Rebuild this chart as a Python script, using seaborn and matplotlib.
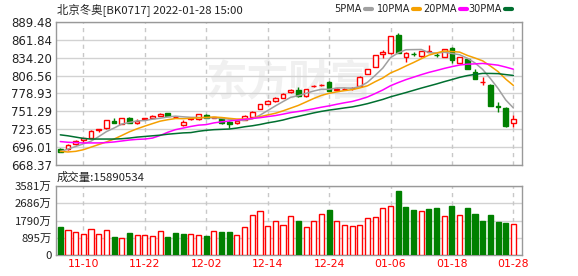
import numpy as np
import pandas as pd
import matplotlib
matplotlib.use("Agg")
import matplotlib.pyplot as plt
import seaborn as sns
from matplotlib.lines import Line2D

# ---------------- data ----------------
dates = [d.strftime("%m-%d") for d in pd.bdate_range("2021-11-05", "2022-01-28")
         if d.strftime("%Y-%m-%d") != "2022-01-03"]

opens = [693, 693, 700.6, 707, 710, 722, 725, 737, 732, 741,
         733, 739.5, 741.2, 744.3, 748.5, 742, 730.4, 740, 739, 746.4,
         741.5, 740.7, 735.5, 733, 738.1, 743.2, 755.1, 762.4, 767, 772.6,
         781, 785, 775.5, 790, 791.5, 797.3, 785, 786, 786.8, 790.6,
         809, 820.5, 840, 841, 869.4, 835, 840, 837, 843.5, 838.5,
         836, 849.8, 825.7, 832, 812.7, 796.5, 792.2, 759, 757, 733]
closes = [689, 699.5, 706, 710, 721.6, 724, 738, 734, 740.7, 734,
          736, 740.5, 744.8, 747.9, 744, 742.3, 735.5, 740.7, 747, 741.2,
          741.7, 733, 732, 737, 744.8, 751, 762.4, 767.5, 772.6, 778.7,
          784, 775, 785.5, 790.6, 792.2, 783.4, 785.5, 786.5, 787.5, 805,
          817, 838.5, 843.6, 867.9, 842, 841, 839.6, 844.5, 844, 838,
          847.3, 830, 835, 817, 801.5, 797, 760, 758.5, 728, 739.5]
highs = [694, 700.5, 707, 710.5, 722, 724.5, 738.5, 741.2, 741, 742.5,
         738.8, 741.5, 745.5, 748.5, 749, 744, 737.5, 743, 747.5, 747,
         742.5, 741.5, 736, 737.5, 745.5, 752.6, 763, 768.5, 773.5, 779.5,
         786, 789.6, 786, 792, 793.5, 799, 787.5, 788, 789, 806,
         817.5, 839, 845.5, 868.5, 873, 843.6, 842.5, 845, 854, 842,
         848.5, 851, 835.5, 833, 816.9, 804, 793, 766.4, 757.5, 746]
lows = [688, 692, 700, 703, 709.5, 719.5, 724.5, 733.5, 731.5, 733.5,
        731, 738, 740.5, 743.5, 743.5, 740.5, 728.5, 737.5, 738, 740.5,
        740.5, 732.5, 725.5, 732, 737.5, 742.5, 754.5, 762, 766.5, 772,
        779, 774, 774, 788.5, 790.5, 782.5, 783.5, 784, 785, 790,
        808.5, 820, 834, 840.5, 841.5, 827, 836.5, 836, 842.5, 835.5,
        835.5, 825.7, 825, 816.5, 801, 792, 759.5, 751, 727.5, 727]
volumes = [1453, 1280, 1176, 1072, 1332, 1072, 1280, 917, 900, 1141,
           1021, 1021, 969, 1228, 917, 1141, 1090, 1072, 1021, 986,
           1228, 1193, 1193, 1021, 1436, 2076, 2266, 1488, 1747, 1539,
           2024, 1765, 1436, 1747, 2111, 2335, 1747, 1539, 1488, 1539,
           1903, 1955, 2422, 2526, 3321, 2491, 2335, 2266, 2387, 2439,
           2007, 2543, 2059, 2439, 2128, 1765, 2076, 1713, 1661, 1589]

ma5_early = [689.2, 693.0, 697.0, 701.0]
ma10_early = [689.5, 688.5, 689.5, 692.0, 696.0, 700.0, 704.0, 708.5, 714.0]
ma20_early = [704.6, 703.5, 703.0, 702.5, 702.5, 702.5, 703.0, 704.0, 705.5, 707.0,
              708.0, 708.5, 710.0, 714.0, 719.0, 723.0, 725.5, 728.0, 730.0]
ma30_early = [715.0, 713.5, 711.5, 709.5, 708.5, 708.5, 708.5, 708.5, 709.0, 710.0,
              711.5, 712.5, 713.5, 714.5, 716.0, 717.0, 718.0, 718.5, 720.5, 722.0,
              723.0, 723.5, 724.0, 725.5, 727.5, 729.0, 731.0, 733.5, 735.5]

price_ticks = [668.37, 696.01, 723.65, 751.29, 778.93, 806.56, 834.20, 861.84, 889.48]
vol_ticks = [0, 895, 1790, 2686, 3581]
vol_tick_labels = ["0", "895万", "1790万", "2686万", "3581万"]
date_labels = ["11-10", "11-22", "12-02", "12-14", "12-24", "01-06", "01-18", "01-28"]

title = "北京冬奥[BK0717] 2022-01-28 15:00"
vol_title = "成交量:15890534"
ma_names = ["5PMA", "10PMA", "20PMA", "30PMA"]

# ---------------- style ----------------
sns.set_theme(style="white")
plt.rcParams["font.family"] = ["DejaVu Sans", "Noto Sans CJK SC"]
CJK = ["Noto Sans CJK SC", "DejaVu Sans"]

RED = "#ff0000"
GREEN = "#008000"
MA_COLORS = ["#a0a0a0", "#f5a000", "#ff00ff", "#006f30"]
GRID = "#d2d2d2"
SPINE = "#999999"
TXT = "#222222"

W, H = 578, 276
fig = plt.figure(figsize=(W / 100, H / 100), dpi=100)
fig.patch.set_facecolor("white")

def box(l, t, r, b):
    return [l / W, 1 - b / H, (r - l) / W, (b - t) / H]

ax = fig.add_axes(box(56, 22, 522, 165))
axv = fig.add_axes(box(56, 186, 522, 255))

o = np.array(opens, float)
c = np.array(closes, float)
h = np.array(highs, float)
lo = np.array(lows, float)
v = np.array(volumes, float)
x = np.arange(len(c))

up = c >= o
cols = np.where(up, RED, GREEN)

# moving averages
cs = pd.Series(c)
mas = []
for n, early in zip([5, 10, 20, 30], [ma5_early, ma10_early, ma20_early, ma30_early]):
    m = cs.rolling(n).mean().to_numpy()
    m[: n - 1] = early
    mas.append(m)

# watermark
ax.text(0.50, 0.58, "东方财富", transform=ax.transAxes, fontsize=30, color="#f0f0f0",
        ha="center", va="center", family=CJK, fontweight="bold", zorder=0)

# candles
ax.vlines(x, lo, h, colors=cols, lw=1, zorder=3)
body_h = np.maximum(np.abs(c - o), 0.35)
ax.bar(x, body_h, bottom=np.minimum(o, c), width=0.62,
       facecolor=np.where(up, "white", GREEN), edgecolor=cols, linewidth=1, zorder=4)

# MA lines
for m, col in zip(mas, MA_COLORS):
    sns.lineplot(x=x, y=m, ax=ax, color=col, lw=1.1, legend=False, zorder=5)

# volume
prev_close = np.concatenate([[o[0]], c[:-1]])
vup = c > prev_close
vcols = np.where(vup, RED, GREEN)
axv.bar(x, v, width=0.66, facecolor=np.where(vup, "white", GREEN),
        edgecolor=vcols, linewidth=1, zorder=3)

# axes cosmetics
label_idx = [dates.index(d) for d in date_labels]
for a in (ax, axv):
    a.set_xlim(-0.56, len(c) - 1 + 1.12)
    for s in a.spines.values():
        s.set_color(SPINE)
        s.set_linewidth(1)
    for i in label_idx:
        a.axvline(i, color="#c8c8c8", lw=1, ls=(0, (3, 3)), zorder=1)
    a.tick_params(axis="both", length=0, pad=3)
    a.set_xlabel("")
    a.set_ylabel("")

ax.set_ylim(price_ticks[0], price_ticks[-1])
ax.set_yticks(price_ticks)
ax.set_yticklabels([f"{t:.2f}" for t in price_ticks], fontsize=8.5, color=TXT)
ax.yaxis.grid(True, color=GRID, lw=1, zorder=1)
ax.set_xticks([])

axv.set_ylim(0, vol_ticks[-1])
axv.set_yticks(vol_ticks)
axv.set_yticklabels(vol_tick_labels, fontsize=8.2, color=TXT, family=CJK)
axv.yaxis.grid(True, color=GRID, lw=1, zorder=1)
axv.set_xticks(label_idx)
axv.set_xticklabels(date_labels, fontsize=7.8, color=RED)

# titles
fig.text(57 / W, 1 - 10 / H, title, fontsize=8.2, color=TXT, va="center", ha="left", family=CJK)
fig.text(57 / W, 1 - 177 / H, vol_title, fontsize=8.2, color=TXT, va="center", ha="left", family=CJK)

# legend
leg_line_x = [(365, 372), (413, 420), (460, 467), (505, 512)]
for name, (l0, l1), col in zip(ma_names, leg_line_x, MA_COLORS):
    fig.text((l0 - 3) / W, 1 - 9 / H, name, fontsize=7.0, color=TXT, va="center", ha="right")
    fig.add_artist(Line2D([l0 / W, l1 / W], [1 - 9 / H, 1 - 9 / H], color=col, lw=3))

fig.savefig("out.png", dpi=100, facecolor="white")
